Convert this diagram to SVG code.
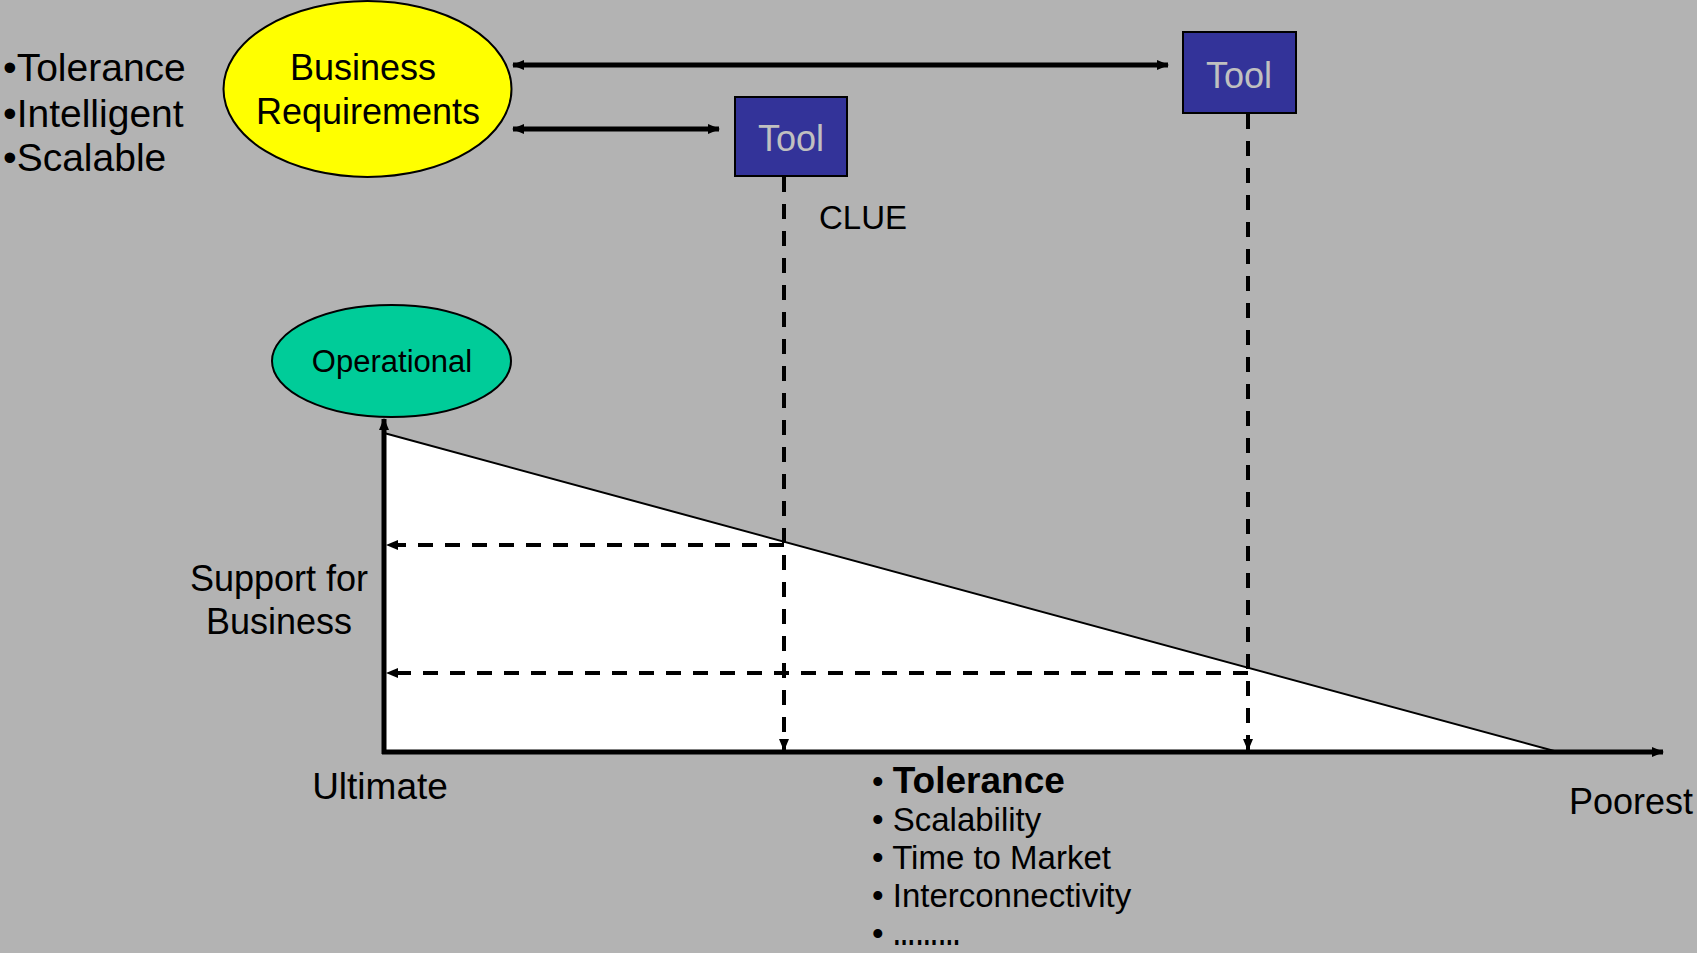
<svg xmlns="http://www.w3.org/2000/svg" width="1697" height="953" viewBox="0 0 1697 953">
  <style>
    text { font-family: "Liberation Sans", Arial, sans-serif; fill: #000; }
    .lbl { font-size: 39px; }
    .mid { text-anchor: middle; }
    .tool rect { fill: #333399; stroke: #000; stroke-width: 2; }
    .tool text { fill: #c0c0c0; font-size: 36px; text-anchor: middle; }
    .solid { stroke: #000; stroke-width: 5; fill: none; }
    .axis { stroke: #000; stroke-width: 5; fill: none; }
    .dash { stroke: #000; stroke-width: 4; fill: none; stroke-dasharray: 15 12; }
    .list { font-size: 33px; }
  </style>
  <defs>
    <marker id="head" viewBox="0 0 12 10" refX="11" refY="5" markerWidth="12" markerHeight="11" markerUnits="userSpaceOnUse" orient="auto-start-reverse">
      <path d="M0,0 L12,5 L0,10 Z" fill="#000"/>
    </marker>
    <marker id="headSmall" viewBox="0 0 12 10" refX="11" refY="5" markerWidth="12" markerHeight="10" markerUnits="userSpaceOnUse" orient="auto">
      <path d="M0,0 L12,5 L0,10 Z" fill="#000"/>
    </marker>
  </defs>

  <rect width="1697" height="953" fill="#b3b3b3"/>

  <!-- triangle of business support -->
  <polygon id="support-area" points="384,433 1558,752 384,752" fill="#fff" stroke="#000" stroke-width="2"/>

  <!-- left list -->
  <g id="qualities">
    <text class="lbl" x="3" y="81">•Tolerance</text>
    <text class="lbl" x="3" y="127">•Intelligent</text>
    <text class="lbl" x="3" y="171">•Scalable</text>
  </g>

  <g id="business-requirements">
    <ellipse cx="367.5" cy="89" rx="144" ry="88" fill="#ffff00" stroke="#000" stroke-width="2"/>
    <text class="mid" x="363" y="80" font-size="36">Business</text>
    <text class="mid" x="368" y="124" font-size="36">Requirements</text>
  </g>

  <g id="tool-near" class="tool">
    <rect x="735" y="97" width="112" height="79"/>
    <text x="791" y="151">Tool</text>
  </g>

  <g id="tool-far" class="tool">
    <rect x="1183" y="32" width="113" height="81"/>
    <text x="1239" y="88">Tool</text>
  </g>

  <g id="operational">
    <ellipse cx="391.5" cy="361" rx="119.5" ry="56" fill="#00cc99" stroke="#000" stroke-width="2"/>
    <text class="mid" x="392" y="372" font-size="31">Operational</text>
  </g>

  <!-- connectors and axes -->
  <g id="connectors">
    <line class="solid" x1="513" y1="65" x2="1168" y2="65" marker-start="url(#head)" marker-end="url(#head)"/>
    <line class="solid" x1="513" y1="129" x2="719" y2="129" marker-start="url(#head)" marker-end="url(#head)"/>

    <line class="axis" x1="384" y1="754" x2="384" y2="419" marker-end="url(#headSmall)"/>
    <line class="axis" x1="382" y1="752" x2="1663" y2="752" marker-end="url(#headSmall)"/>

    <line class="dash" x1="784" y1="177" x2="784" y2="750" marker-end="url(#head)"/>
    <line class="dash" x1="1248" y1="114" x2="1248" y2="750" marker-end="url(#head)"/>
    <line class="dash" x1="784" y1="545" x2="387" y2="545" marker-end="url(#head)"/>
    <line class="dash" x1="1248" y1="673" x2="387" y2="673" marker-end="url(#head)"/>
  </g>

  <!-- labels -->
  <g id="labels">
    <text x="819" y="229" font-size="33">CLUE</text>
    <text class="mid" x="279" y="591" font-size="36">Support for</text>
    <text class="mid" x="279" y="634" font-size="36">Business</text>
    <text class="mid" x="380" y="799" font-size="37">Ultimate</text>
    <text x="1569" y="814" font-size="36">Poorest</text>
  </g>

  <g id="criteria" class="list">
    <text x="872" y="793">• <tspan font-weight="bold" font-size="37">Tolerance</tspan></text>
    <text x="872" y="831">• Scalability</text>
    <text x="872" y="869">• Time to Market</text>
    <text x="872" y="907">• Interconnectivity</text>
    <text x="872" y="945">• <tspan textLength="68" lengthAdjust="spacingAndGlyphs" font-weight="bold">………</tspan></text>
  </g>
</svg>
